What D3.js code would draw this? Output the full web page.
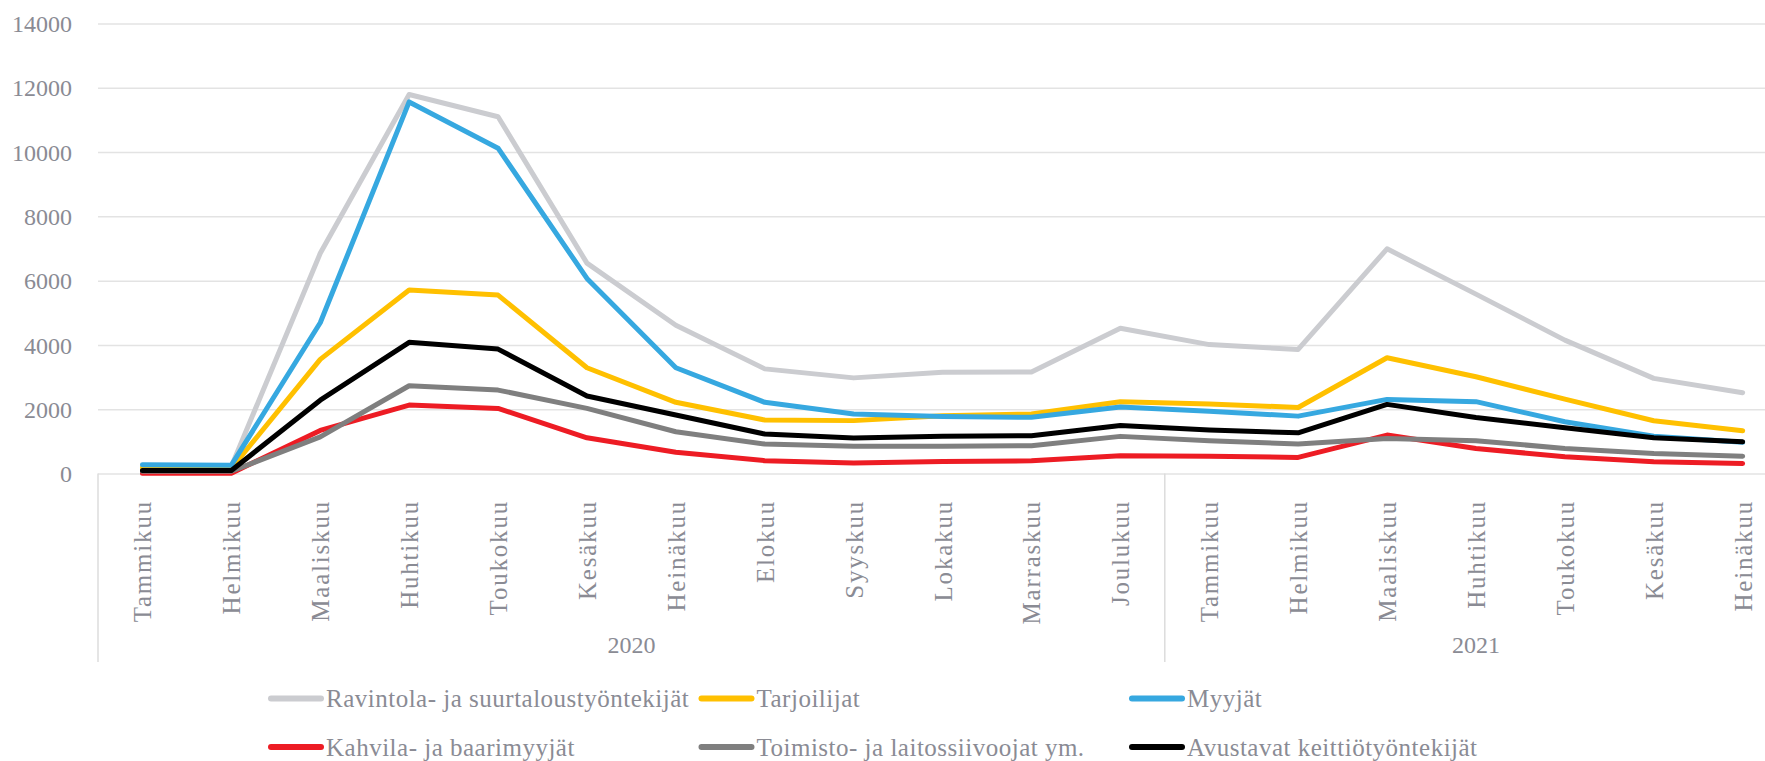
<!DOCTYPE html>
<html>
<head>
<meta charset="utf-8">
<script src="https://cdn.jsdelivr.net/npm/d3@7"></script>
<style>
	html, body { margin: 0; padding: 0; background: #fff; }
	svg { display: block; }
	svg text { font-family: "Liberation Serif", "DejaVu Serif", serif; fill: #8a8b94; }
</style>
</head>
<body>
<svg width="1765" height="761"></svg>
<script>
const months = ["Tammikuu", "Helmikuu", "Maaliskuu", "Huhtikuu", "Toukokuu", "Kesäkuu", "Heinäkuu",
	"Elokuu", "Syyskuu", "Lokakuu", "Marraskuu", "Joulukuu",
	"Tammikuu", "Helmikuu", "Maaliskuu", "Huhtikuu", "Toukokuu", "Kesäkuu", "Heinäkuu"];
const years = [{ label: "2020", count: 12 }, { label: "2021", count: 7 }];
const yTicks = [0, 2000, 4000, 6000, 8000, 10000, 12000, 14000];

const ravintola = [230, 220, 6850, 11790, 11100, 6545, 4610, 3255, 2975, 3150, 3160, 4520, 4010, 3860, 6990, 5580, 4150, 2960, 2515];
const tarjoilijat = [170, 160, 3550, 5710, 5550, 3290, 2215, 1665, 1645, 1800, 1850, 2230, 2165, 2055, 3600, 3010, 2315, 1640, 1330];
const myyjat = [270, 260, 4690, 11560, 10120, 6070, 3290, 2215, 1850, 1770, 1750, 2070, 1940, 1785, 2305, 2235, 1610, 1160, 970];
const kahvila = [10, 10, 1340, 2130, 2025, 1110, 660, 400, 325, 375, 395, 550, 540, 500, 1195, 780, 520, 365, 310];
const toimisto = [70, 70, 1140, 2730, 2595, 2025, 1300, 915, 845, 845, 865, 1155, 1020, 915, 1090, 1020, 780, 625, 540];
const avustavat = [95, 95, 2280, 4080, 3870, 2410, 1820, 1228, 1102, 1160, 1175, 1495, 1350, 1265, 2150, 1745, 1420, 1110, 985];

const seriesNames = ["Ravintola- ja suurtaloustyöntekijät", "Tarjoilijat", "Myyjät",
	"Kahvila- ja baarimyyjät", "Toimisto- ja laitossiivoojat ym.", "Avustavat keittiötyöntekijät"];
const seriesValues = [ravintola, tarjoilijat, myyjat, kahvila, toimisto, avustavat];
const colors = ["#cbccd0", "#ffc000", "#36a8e0", "#ed1c24", "#7f7f7f", "#000000"];

const svg = d3.select("svg");
const left = 98, bandW = 88.9;

const x = d3.scaleBand()
	.domain(d3.range(months.length))
	.range([left, left + bandW * months.length]);
const y = d3.scaleLinear().domain([0, 14000]).range([473.5, 23.5]);
const right = x.range()[1];

// gridlines + y labels
const yAxis = svg.append("g")
	.attr("transform", `translate(${left},0)`)
	.call(d3.axisLeft(y).tickValues(yTicks).tickSize(-(right - left)).tickPadding(26).tickFormat(d3.format("d")));
yAxis.select(".domain").remove();
yAxis.selectAll(".tick line").attr("stroke", "#e3e3e3").attr("stroke-width", 1.5);
yAxis.selectAll(".tick text")
	.attr("fill", null)
	.attr("font-size", 24)
	.attr("dy", "0.34em");

// x axis separators
const bounds = [0];
years.forEach(yr => bounds.push(bounds[bounds.length - 1] + yr.count));
svg.append("g").selectAll("line")
	.data(bounds)
	.join("line")
	.attr("x1", d => left + d * bandW)
	.attr("x2", d => left + d * bandW)
	.attr("y1", y(0))
	.attr("y2", 662)
	.attr("stroke", "#dcdcdc")
	.attr("stroke-width", 1.5);

// month labels
svg.append("g").selectAll("text")
	.data(months)
	.join("text")
	.attr("transform", (d, i) => `translate(${x(i) + x.bandwidth() / 2},500) rotate(-90)`)
	.attr("text-anchor", "end")
	.attr("dy", "0.36em")
	.attr("font-size", 25)
	.attr("letter-spacing", 1.8)
	.text(d => d);

// year labels
svg.append("g").selectAll("text")
	.data(years)
	.join("text")
	.attr("x", (d, i) => left + (bounds[i] + bounds[i + 1]) / 2 * bandW)
	.attr("y", 653)
	.attr("text-anchor", "middle")
	.attr("font-size", 24)
	.text(d => d.label);

// lines
const line = d3.line()
	.x((d, i) => x(i) + x.bandwidth() / 2)
	.y(d => y(d));

svg.append("g").selectAll("path")
	.data(seriesValues)
	.join("path")
	.attr("d", line)
	.attr("fill", "none")
	.attr("stroke", (d, i) => colors[i])
	.attr("stroke-width", 5)
	.attr("stroke-linejoin", "round")
	.attr("stroke-linecap", "round");

// legend
const legend = svg.append("g").selectAll("g")
	.data(seriesNames)
	.join("g")
	.attr("transform", (d, i) => `translate(${268 + (i % 3) * 430.5},${698.5 + Math.floor(i / 3) * 48.5})`);

legend.append("line")
	.attr("x1", 3)
	.attr("x2", 53)
	.attr("stroke", (d, i) => colors[i])
	.attr("stroke-width", 6)
	.attr("stroke-linecap", "round");

legend.append("text")
	.attr("x", 58)
	.attr("dy", "0.34em")
	.attr("font-size", 25)
	.attr("letter-spacing", 0.5)
	.text(d => d);
</script>
</body>
</html>
